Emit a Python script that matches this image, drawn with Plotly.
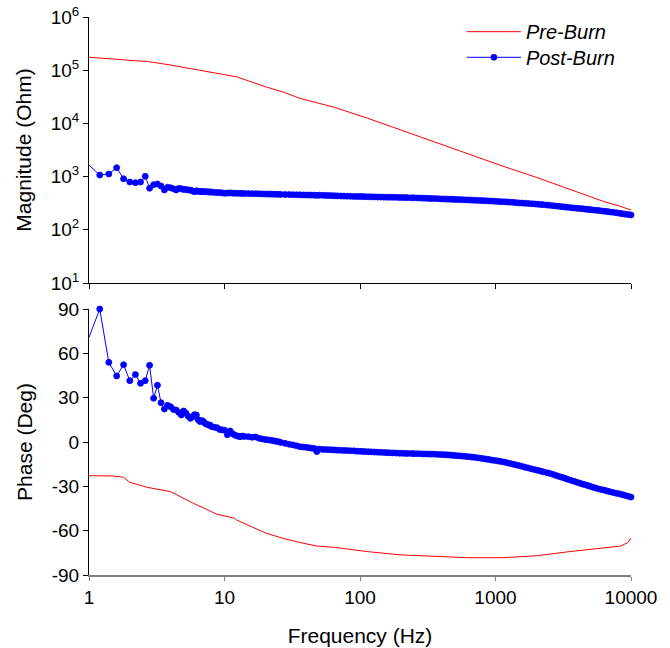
import plotly.graph_objects as go

# ---------------- data ----------------
pre_freq = [1, 1.5, 1.8, 2.0, 2.7, 4, 5.9, 8.8, 11.8, 12.3, 20, 27, 36, 48, 65,
            114, 200, 358, 630, 1110, 2000, 3500, 6300, 8400, 9500, 10000]
pre_mag = [1.75e5, 1.66e5, 1.57e5, 1.53e5, 1.46e5, 1.25e5, 1.05e5, 8.5e4, 7.7e4, 7.5e4,
           4.9e4, 3.9e4, 2.96e4, 2.45e4, 2.0e4, 1.25e4, 7.5e3, 4.53e3, 2.7e3, 1.6e3,
           970, 585, 340, 275, 245, 235]
pre_phase = [-22.8, -23.0, -23.9, -27.3, -30.7, -33.6, -41.5, -48.9, -51.5, -52.8,
             -61.5, -65.2, -68.0, -70.4, -71.3, -74.2, -76.4, -77.6, -78.3, -78.3,
             -77.0, -74.2, -71.5, -70.4, -68.0, -65.0]

post_freq = [
    1.0, 1.2, 1.4, 1.6, 1.8, 2.0, 2.2, 2.4, 2.6, 2.8,
    3.0, 3.2, 3.4, 3.6, 3.8, 4.0, 4.2, 4.4, 4.6, 4.8,
    5.0, 5.2, 5.4, 5.6, 5.8, 6.0, 6.2, 6.4, 6.6, 6.8,
    7.0, 7.2, 7.4, 7.6, 7.8, 8.0, 8.4, 8.8, 9.2, 9.6,
    10, 10.5, 11, 11.5, 12, 12.5, 13, 13.5, 14, 15, 16, 17, 18, 19, 20,
    21, 22, 23, 24, 25, 26, 28, 30, 32, 34, 36, 38, 40, 42, 44, 46, 48, 50,
    53, 56, 59, 62, 65, 68, 72, 76, 80, 85, 90, 95, 100,
    105, 110, 116, 122, 128, 135, 142, 150, 158, 166, 175, 185, 195, 205,
    215, 225, 240, 250, 265, 280, 295, 310, 325, 340, 360, 380, 400,
    420, 440, 460, 480, 500, 525, 550, 580, 610, 640,
    670, 700, 740, 780, 820, 860, 900, 950, 1000,
    1050, 1100, 1160, 1220, 1280, 1350, 1420, 1500,
    1580, 1660, 1750, 1850, 1950, 2050,
    2150, 2250, 2400, 2500, 2650, 2800, 2950, 3100,
    3250, 3400, 3600, 3800, 4000,
    4200, 4400, 4600, 4800, 5000,
    5250, 5500, 5800, 6100, 6400, 6700, 7000, 7400, 7800, 8200, 8600, 9000, 9500, 10000]

post_mag = [
    1650, 1070, 1120, 1470, 910, 790, 770, 790, 1010, 603,
    705, 725, 665, 560, 630, 617, 590, 560, 600, 590,
    570, 575, 560, 555, 540, 520, 540, 530, 525, 520,
    525, 520, 515, 520, 510, 515, 505, 500, 500, 495,
    485, 490, 495, 488, 487, 485, 484, 483, 481, 480, 478, 478, 475, 473, 470,
    469, 468, 467, 466, 464, 463, 461, 459, 457, 456, 454, 452, 451, 450, 449, 448, 444, 447,
    445, 442, 440, 438, 436, 434, 432, 430, 428, 426, 424, 423, 422,
    421, 419, 418, 416, 415, 413, 412, 411, 410, 409, 408, 407, 406, 405,
    403, 402, 400, 399, 397, 395, 393, 391, 389, 388, 386, 383, 380,
    379, 377, 376, 374, 373, 371, 369, 367, 365, 363,
    361, 359, 357, 355, 352, 350, 348, 346, 343,
    341, 338, 336, 333, 331, 328, 324, 320,
    318, 315, 312, 309, 306, 303,
    300, 297, 292, 289, 284, 280, 276, 272,
    268, 265, 261, 257, 254,
    251, 248, 245, 242, 240,
    236, 233, 230, 226, 223, 220, 216, 213, 209, 205, 201, 197, 194, 190]

post_phase = [
    70.8, 90.0, 53.9, 44.7, 52.3, 41.5, 45.6, 39.7, 41.5, 51.9,
    29.6, 38.4, 26.6, 22.3, 24.8, 23.9, 22.0, 21.6, 20.0, 18.3,
    21.0, 19.4, 17.5, 16.0, 17.0, 18.5, 18.3, 15.0, 13.8, 14.5,
    13.8, 12.5, 12.0, 11.5, 11.5, 10.5, 10.0, 9.7, 8.5, 8.2,
    8.0, 4.9, 7.5, 5.5, 4.5, 4.0, 3.6, 4.0, 3.8, 3.6, 3.2, 3.4, 2.5, 2.0, 1.7,
    1.4, 1.2, 0.8, 0.5, 0.2, -0.3, -0.9, -1.5, -2.0, -2.6, -3.2, -3.4, -3.6, -3.9, -4.2, -4.4, -6.5, -4.8,
    -5.0, -5.1, -5.2, -5.3, -5.4, -5.5, -5.6, -5.7, -5.8, -5.9, -6.0, -6.2, -6.3,
    -6.4, -6.5, -6.6, -6.7, -6.8, -6.9, -7.0, -7.1, -7.2, -7.3, -7.4, -7.5, -7.6, -7.6,
    -7.7, -7.7, -7.8, -7.9, -7.9, -8.0, -8.1, -8.1, -8.2, -8.2, -8.3, -8.4, -8.5,
    -8.6, -8.7, -8.8, -9.0, -9.1, -9.3, -9.4, -9.6, -9.8, -10.0,
    -10.2, -10.4, -10.7, -11.0, -11.3, -11.6, -11.9, -12.3, -12.6,
    -12.9, -13.2, -13.6, -14.1, -14.5, -15.0, -15.5, -16.0,
    -16.6, -17.1, -17.6, -18.2, -18.7, -19.2,
    -19.7, -20.2, -20.8, -21.2, -21.9, -22.6, -23.3, -23.9,
    -24.5, -25.2, -25.9, -26.6, -27.3,
    -27.9, -28.5, -29.0, -29.5, -30.0,
    -30.6, -31.2, -31.8, -32.3, -32.7, -33.2, -33.7, -34.2, -34.7, -35.1, -35.6, -36.1, -36.7, -37.3]

assert len(post_freq) == len(post_mag) == len(post_phase), (len(post_freq), len(post_mag), len(post_phase))
assert len(pre_freq) == len(pre_mag) == len(pre_phase)

x_tick_vals = [1, 10, 100, 1000, 10000]
x_tick_text = ["1", "10", "100", "1000", "10000"]
mag_tick_vals = [10, 100, 1000, 10000, 100000, 1000000]
mag_tick_text = ["10<sup>1</sup>", "10<sup>2</sup>", "10<sup>3</sup>",
                 "10<sup>4</sup>", "10<sup>5</sup>", "10<sup>6</sup>"]
phase_tick_vals = [-90, -60, -30, 0, 30, 60, 90]
phase_tick_text = ["-90", "-60", "-30", "0", "30", "60", "90"]

# ---------------- figure ----------------
FONT = "Liberation Sans, Arial, sans-serif"
RED = "#ff0000"
BLUE = "#0000ff"
marker_sizes = [0] + [6] * (len(post_freq) - 1)
marker_line_widths = [0] + [0.8] * (len(post_freq) - 1)

fig = go.Figure()
fig.add_trace(go.Scatter(x=pre_freq, y=pre_mag, xaxis="x2", yaxis="y2", mode="lines",
                         line=dict(color=RED, width=1), name="Pre-Burn", legend="legend"))
fig.add_trace(go.Scatter(x=post_freq, y=post_mag, xaxis="x2", yaxis="y2", mode="lines+markers",
                         line=dict(color=BLUE, width=1),
                         marker=dict(color=BLUE, size=marker_sizes, opacity=1,
                                     line=dict(width=marker_line_widths, color=BLUE)),
                         cliponaxis=False, name="Post-Burn", legend="legend2"))
fig.add_trace(go.Scatter(x=pre_freq, y=pre_phase, xaxis="x", yaxis="y", mode="lines",
                         line=dict(color=RED, width=1), showlegend=False))
fig.add_trace(go.Scatter(x=post_freq, y=post_phase, xaxis="x", yaxis="y", mode="lines+markers",
                         line=dict(color=BLUE, width=1),
                         marker=dict(color=BLUE, size=marker_sizes, opacity=1,
                                     line=dict(width=marker_line_widths, color=BLUE)),
                         cliponaxis=False, showlegend=False))

tick_font = dict(family=FONT, size=19, color="black")
title_font = dict(family=FONT, size=21, color="black")
legend_font = dict(family=FONT, size=20, color="black", style="italic")

fig.update_layout(
    width=670, height=648,
    margin=dict(l=89, r=39, t=17, b=73, autoexpand=False),
    paper_bgcolor="white", plot_bgcolor="white",
    font=dict(family=FONT, color="black"),
    hovermode=False,
    xaxis=dict(type="log", range=[0, 4.00001], domain=[0, 1], anchor="y", automargin=False,
               tickvals=x_tick_vals, ticktext=x_tick_text, tickfont=tick_font,
               ticks="outside", ticklen=4, tickcolor="#808080", tickwidth=1,
               showline=True, linecolor="#808080", linewidth=2,
               showgrid=False, zeroline=False, ticklabeloverflow="allow",
               title=dict(text="Frequency (Hz)", font=title_font, standoff=22)),
    xaxis2=dict(type="log", range=[0, 4.00001], domain=[0, 1], anchor="y2", matches="x",
                automargin=False,
                tickvals=x_tick_vals, showticklabels=False,
                ticks="outside", ticklen=5, tickcolor="black", tickwidth=1,
                showline=True, linecolor="black", linewidth=1,
                showgrid=False, zeroline=False),
    yaxis=dict(domain=[0, 0.4767], range=[-90, 90], anchor="x", automargin=False,
               tickvals=phase_tick_vals, ticktext=phase_tick_text, tickfont=tick_font,
               ticks="outside", ticklen=5, tickcolor="black", tickwidth=1,
               showline=True, linecolor="black", linewidth=1,
               showgrid=False, zeroline=False, ticklabeloverflow="allow",
               title=dict(text="Phase (Deg)", font=title_font, standoff=13)),
    yaxis2=dict(domain=[0.5233, 1], type="log", range=[1, 6.00001], anchor="x2", automargin=False,
                tickvals=mag_tick_vals, ticktext=mag_tick_text, tickfont=tick_font,
                ticks="outside", ticklen=5, tickcolor="black", tickwidth=1,
                showline=True, linecolor="black", linewidth=1,
                showgrid=False, zeroline=False, ticklabeloverflow="allow",
                title=dict(text="Magnitude (Ohm)", font=title_font, standoff=13)),
    legend=dict(x=0.688, y=0.9737, xanchor="left", yanchor="middle",
                font=legend_font, bgcolor="rgba(0,0,0,0)", borderwidth=0, itemwidth=54),
    legend2=dict(x=0.688, y=0.9278, xanchor="left", yanchor="middle",
                 font=legend_font, bgcolor="rgba(0,0,0,0)", borderwidth=0, itemwidth=54),
    showlegend=True,
)

# remove the default 8px page margin so the figure sits at the window's top-left corner
fig.write_html("out.html", config={"displayModeBar": False, "staticPlot": True},
               post_script="document.body.style.margin='0';")
